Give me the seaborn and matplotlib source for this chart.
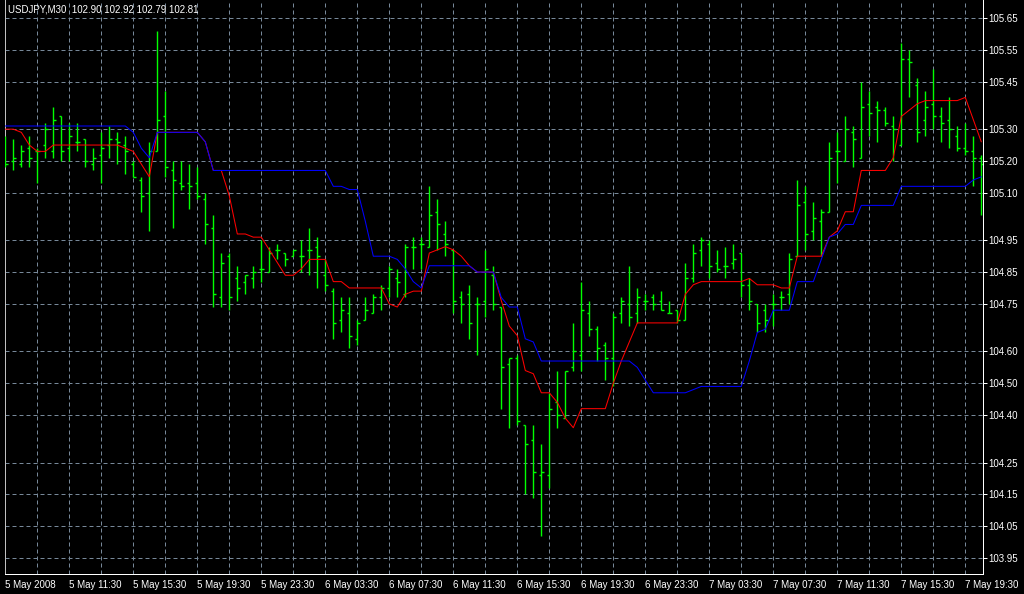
import numpy as np
import pandas as pd
import matplotlib
matplotlib.use("Agg")
import matplotlib.pyplot as plt
import seaborn as sns

# chart header and axis labels
chart_title = "USDJPY,M30  102.90 102.92 102.79 102.81"
x_labels = ["5 May 2008", "5 May 11:30", "5 May 15:30", "5 May 19:30", "5 May 23:30",
            "6 May 03:30", "6 May 07:30", "6 May 11:30", "6 May 15:30", "6 May 19:30",
            "6 May 23:30", "7 May 03:30", "7 May 07:30", "7 May 11:30", "7 May 15:30",
            "7 May 19:30"]
y_ticks = [105.65, 105.55, 105.45, 105.30, 105.20, 105.10, 104.95, 104.85,
           104.75, 104.60, 104.50, 104.40, 104.25, 104.15, 104.05, 103.95]

# M30 bars
bar_open = [
    105.27, 105.20, 105.19, 105.24, 105.23, 105.25, 105.23, 105.34, 105.24, 105.26,
    105.27, 105.19, 105.22, 105.25, 105.27, 105.25, 105.19, 105.14, 105.10, 105.23,
    105.34, 105.17, 105.13, 105.13, 105.13, 105.08, 104.99, 104.77, 104.90, 104.83,
    104.82, 104.83, 104.86, 104.85, 104.92, 104.91, 104.90, 104.90, 104.92, 104.93,
    104.84, 104.79, 104.70, 104.72, 104.64, 104.70, 104.72, 104.77, 104.80, 104.83,
    104.78, 104.93, 104.94, 104.93, 105.04, 104.97, 104.92, 104.77, 104.78, 104.75,
    104.76, 104.84, 104.74, 104.56, 104.58, 104.37, 104.32, 104.21, 104.21, 104.44,
    104.39, 104.55, 104.59, 104.72, 104.67, 104.62, 104.58, 104.72, 104.75, 104.72,
    104.76, 104.77, 104.76, 104.72, 104.73, 104.70, 104.83, 104.92, 104.94, 104.88,
    104.87, 104.88, 104.91, 104.81, 104.75, 104.73, 104.75, 104.77, 104.78, 104.90,
    105.07, 104.98, 105.01, 105.04, 105.23, 105.20, 105.29, 105.21, 105.38, 105.37,
    105.36, 105.31, 105.25, 105.52, 105.44, 105.33, 105.38, 105.34, 105.33, 105.28,
    105.24, 105.23, 105.21]
bar_high = [
    105.28, 105.27, 105.25, 105.28, 105.24, 105.32, 105.37, 105.34, 105.32, 105.32,
    105.27, 105.24, 105.29, 105.31, 105.29, 105.28, 105.20, 105.15, 105.26, 105.61,
    105.42, 105.20, 105.20, 105.19, 105.18, 105.10, 105.03, 104.91, 104.91, 104.87,
    104.84, 104.87, 104.95, 104.93, 104.94, 104.91, 104.92, 104.95, 104.99, 104.96,
    104.89, 104.80, 104.77, 104.77, 104.70, 104.77, 104.78, 104.81, 104.87, 104.86,
    104.94, 104.96, 104.96, 105.12, 105.08, 105.01, 104.92, 104.79, 104.81, 104.77,
    104.92, 104.87, 104.74, 104.58, 104.59, 104.37, 104.37, 104.31, 104.47, 104.54,
    104.54, 104.69, 104.82, 104.76, 104.68, 104.63, 104.72, 104.77, 104.87, 104.80,
    104.78, 104.78, 104.79, 104.76, 104.73, 104.88, 104.94, 104.96, 104.95, 104.92,
    104.93, 104.94, 104.91, 104.83, 104.75, 104.75, 104.78, 104.79, 104.91, 105.14,
    105.12, 105.07, 105.05, 105.26, 105.29, 105.34, 105.31, 105.45, 105.42, 105.39,
    105.37, 105.34, 105.57, 105.55, 105.46, 105.42, 105.49, 105.37, 105.40, 105.31,
    105.32, 105.28, 105.22]
bar_low = [
    105.18, 105.17, 105.18, 105.18, 105.13, 105.21, 105.21, 105.20, 105.20, 105.23,
    105.18, 105.17, 105.13, 105.21, 105.19, 105.16, 105.15, 105.04, 104.98, 105.23,
    105.15, 104.99, 105.11, 105.05, 105.08, 104.94, 104.74, 104.74, 104.73, 104.76,
    104.78, 104.80, 104.82, 104.85, 104.89, 104.87, 104.90, 104.85, 104.84, 104.80,
    104.79, 104.64, 104.66, 104.61, 104.62, 104.70, 104.72, 104.73, 104.77, 104.77,
    104.77, 104.86, 104.86, 104.93, 104.92, 104.90, 104.72, 104.69, 104.64, 104.59,
    104.71, 104.73, 104.42, 104.36, 104.37, 104.15, 104.14, 104.02, 104.17, 104.36,
    104.39, 104.54, 104.54, 104.65, 104.57, 104.51, 104.49, 104.69, 104.68, 104.69,
    104.73, 104.73, 104.73, 104.72, 104.69, 104.70, 104.82, 104.87, 104.83, 104.85,
    104.83, 104.86, 104.77, 104.73, 104.66, 104.66, 104.68, 104.73, 104.75, 104.90,
    104.92, 104.95, 104.90, 105.04, 105.13, 105.20, 105.18, 105.21, 105.28, 105.26,
    105.31, 105.20, 105.25, 105.40, 105.26, 105.28, 105.30, 105.26, 105.24, 105.23,
    105.22, 105.12, 105.03]
bar_close = [
    105.19, 105.21, 105.23, 105.21, 105.23, 105.30, 105.33, 105.23, 105.28, 105.26,
    105.20, 105.21, 105.24, 105.27, 105.26, 105.23, 105.15, 105.09, 105.23, 105.33,
    105.18, 105.14, 105.12, 105.12, 105.09, 105.00, 104.78, 104.88, 104.77, 104.80,
    104.84, 104.85, 104.86, 104.91, 104.92, 104.89, 104.92, 104.90, 104.92, 104.90,
    104.81, 104.69, 104.73, 104.65, 104.69, 104.73, 104.77, 104.80, 104.86, 104.82,
    104.93, 104.93, 104.94, 105.03, 105.00, 104.94, 104.76, 104.75, 104.69, 104.75,
    104.86, 104.75, 104.55, 104.58, 104.38, 104.31, 104.22, 104.22, 104.42, 104.40,
    104.54, 104.60, 104.73, 104.67, 104.61, 104.58, 104.71, 104.76, 104.71, 104.77,
    104.76, 104.75, 104.73, 104.72, 104.70, 104.83, 104.91, 104.95, 104.87, 104.86,
    104.87, 104.89, 104.81, 104.76, 104.69, 104.70, 104.75, 104.77, 104.89, 105.06,
    104.97, 105.02, 105.04, 105.21, 105.23, 105.30, 105.27, 105.37, 105.35, 105.36,
    105.32, 105.30, 105.52, 105.51, 105.29, 105.37, 105.34, 105.32, 105.30, 105.24,
    105.23, 105.21, 105.19]

# indicator lines
red_line = [
    105.30, 105.30, 105.29, 105.25, 105.23, 105.23, 105.25, 105.25, 105.25, 105.25,
    105.25, 105.25, 105.25, 105.25, 105.25, 105.24, 105.23, 105.19, 105.15, 105.29,
    105.29, 105.29, 105.29, 105.29, 105.29, 105.26, 105.17, 105.17, 105.09, 104.97,
    104.97, 104.96, 104.96, 104.92, 104.88, 104.84, 104.84, 104.86, 104.89, 104.89,
    104.89, 104.82, 104.82, 104.80, 104.80, 104.80, 104.80, 104.80, 104.75, 104.74,
    104.78, 104.79, 104.79, 104.91, 104.92, 104.93, 104.92, 104.90, 104.87, 104.85,
    104.85, 104.85, 104.76, 104.68, 104.65, 104.54, 104.53, 104.47, 104.47, 104.44,
    104.39, 104.36, 104.42, 104.42, 104.42, 104.42, 104.50, 104.57, 104.63, 104.69,
    104.69, 104.69, 104.69, 104.69, 104.69, 104.78, 104.81, 104.82, 104.82, 104.82,
    104.82, 104.82, 104.82, 104.83, 104.81, 104.81, 104.81, 104.80, 104.80, 104.90,
    104.90, 104.90, 104.90, 104.96, 104.98, 105.04, 105.04, 105.17, 105.17, 105.17,
    105.17, 105.21, 105.34, 105.36, 105.38, 105.39, 105.39, 105.39, 105.39, 105.39,
    105.40, 105.33, 105.26]
blue_line = [
    105.31, 105.31, 105.31, 105.31, 105.31, 105.31, 105.31, 105.31, 105.31, 105.31,
    105.31, 105.31, 105.31, 105.31, 105.31, 105.31, 105.29, 105.24, 105.21, 105.29,
    105.29, 105.29, 105.29, 105.29, 105.29, 105.26, 105.17, 105.17, 105.17, 105.17,
    105.17, 105.17, 105.17, 105.17, 105.17, 105.17, 105.17, 105.17, 105.17, 105.17,
    105.17, 105.12, 105.12, 105.11, 105.11, 105.01, 104.90, 104.90, 104.90, 104.89,
    104.86, 104.82, 104.80, 104.87, 104.87, 104.87, 104.87, 104.87, 104.87, 104.85,
    104.85, 104.85, 104.77, 104.74, 104.74, 104.64, 104.63, 104.57, 104.57, 104.57,
    104.57, 104.57, 104.57, 104.57, 104.57, 104.57, 104.57, 104.57, 104.57, 104.55,
    104.51, 104.47, 104.47, 104.47, 104.47, 104.47, 104.48, 104.49, 104.49, 104.49,
    104.49, 104.49, 104.49, 104.57, 104.66, 104.67, 104.73, 104.73, 104.73, 104.82,
    104.82, 104.82, 104.89, 104.96, 104.97, 105.00, 105.00, 105.06, 105.06, 105.06,
    105.06, 105.06, 105.12, 105.12, 105.12, 105.12, 105.12, 105.12, 105.12, 105.12,
    105.12, 105.14, 105.15]

bg = "#000000"
fg = "#ffffff"
grid_color = "#778899"
bar_color = "#00ff00"
px = 0.72  # one pixel in points at 100 dpi

sns.set_theme(style="dark", rc={"axes.facecolor": bg, "figure.facecolor": bg})
plt.rcParams["font.family"] = ["Liberation Sans", "DejaVu Sans"]

df = pd.DataFrame({"bar": np.arange(len(bar_open)), "open": bar_open, "high": bar_high,
                   "low": bar_low, "close": bar_close, "red": red_line, "blue": blue_line})

fig = plt.figure(figsize=(10.24, 5.94), dpi=100, facecolor=bg)
ax = fig.add_axes([5 / 1024, 20 / 594, 977.5 / 1024, 574 / 594])
ax.set_facecolor(bg)

# OHLC bars: high-low stick, open tick left, close tick right
# plain Line2D objects so matplotlib snaps them to whole pixels
for b, o, h, l, c in zip(df["bar"], df["open"], df["high"], df["low"], df["close"]):
    ax.plot([b, b], [l, h], color=bar_color, lw=1.0, solid_capstyle="butt", snap=True, zorder=3)
    ax.plot([b - 0.3, b], [o, o], color=bar_color, lw=1.0, solid_capstyle="butt", snap=True, zorder=3)
    ax.plot([b, b + 0.3], [c, c], color=bar_color, lw=1.0, solid_capstyle="butt", snap=True, zorder=3)

sns.lineplot(data=df, x="bar", y="red", color="#ff0000", lw=0.75, ax=ax, zorder=4)
sns.lineplot(data=df, x="bar", y="blue", color="#0000ff", lw=0.75, ax=ax, zorder=5)

ax.set_xlim(-0.04, 122.15)
ax.set_ylim(103.8994, 105.7067)

step = 8
ax.set_xticks(np.arange(len(x_labels)) * step)
ax.set_xticklabels(x_labels, ha="left")
ax.set_xticks(np.arange(0, len(bar_open), step // 2), minor=True)
ax.set_yticks(y_ticks)
ax.set_yticklabels([f"{v:.2f}" for v in y_ticks])
ax.yaxis.tick_right()

ax.grid(True, which="both", axis="x", color=grid_color, lw=px, linestyle=(0, (4, 3)))
ax.grid(True, which="major", axis="y", color=grid_color, lw=px, linestyle=(0, (4, 3)))
ax.set_axisbelow(True)

ax.tick_params(axis="x", which="major", colors=fg, direction="out", length=3, width=px, pad=1.5, labelsize=7)
ax.tick_params(axis="x", which="minor", length=0)
ax.tick_params(axis="y", colors=fg, direction="out", length=3, width=px, pad=1.5, labelsize=7,
               right=True, left=False)

for side in ["bottom", "right", "left"]:
    ax.spines[side].set_color(fg)
    ax.spines[side].set_linewidth(px)
ax.spines["left"].set_color("#c0c0c0")
ax.spines["top"].set_visible(False)
ax.set_xlabel("")
ax.set_ylabel("")

fig.text(8 / 1024, 1 - 10 / 594, chart_title, color=fg, fontsize=7, ha="left", va="center")

fig.savefig("out.png", dpi=100, facecolor=bg)
